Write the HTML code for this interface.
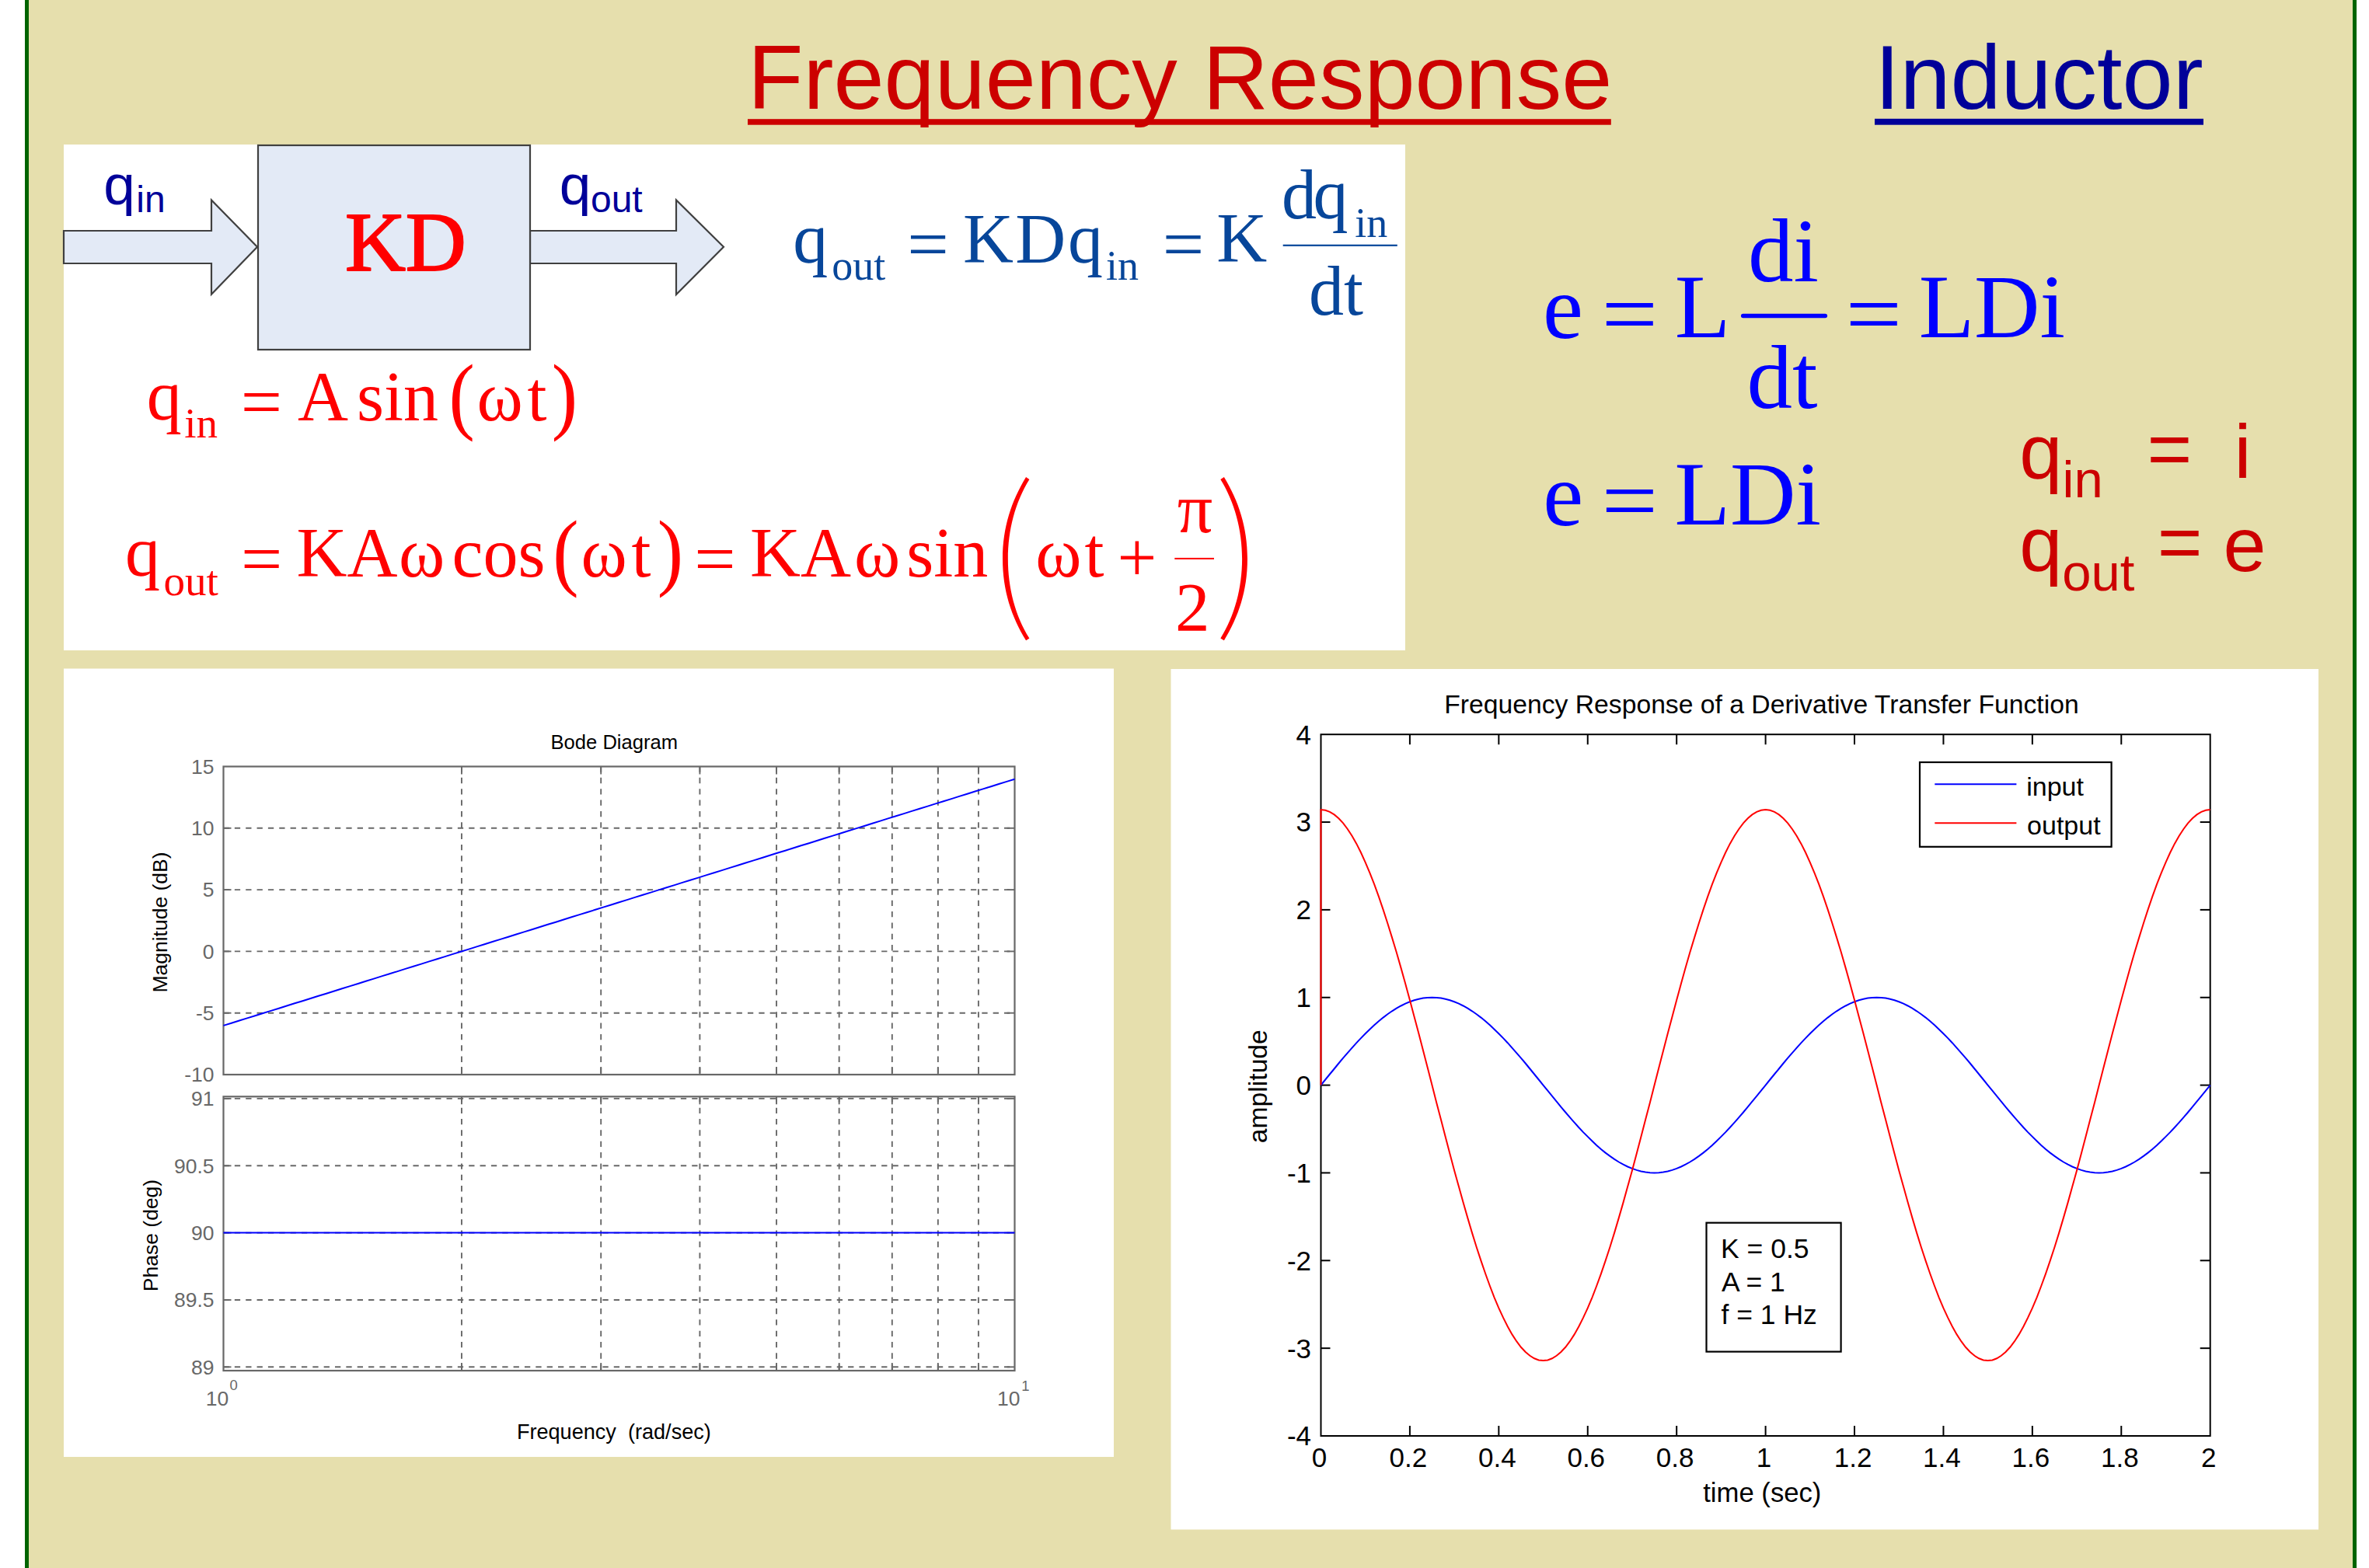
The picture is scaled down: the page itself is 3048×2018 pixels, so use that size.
<!DOCTYPE html>
<html><head><meta charset="utf-8"><title>Frequency Response - Inductor</title>
<style>
html,body{margin:0;padding:0;background:#fff;}
body{width:3048px;height:2018px;overflow:hidden;}
svg{display:block;}
text{white-space:pre;}
</style></head>
<body>
<svg width="3048" height="2018" viewBox="0 0 3048 2018">
<rect x="0.00" y="0.00" width="3048.00" height="2018.00" fill="#FFFFFF"/>
<rect x="32.00" y="0.00" width="3000.00" height="2018.00" fill="#E6DFAD"/>
<rect x="32.00" y="0.00" width="5.00" height="2018.00" fill="#006400"/>
<rect x="3027.00" y="0.00" width="5.00" height="2018.00" fill="#006400"/>
<text x="962.10" y="140.00" font-family="'Liberation Sans',Arial,sans-serif" font-size="117" fill="#CC0000">Frequency Response</text>
<rect x="962.00" y="153.20" width="1110.80" height="7.50" fill="#CC0000"/>
<text x="2411.90" y="140.30" font-family="'Liberation Sans',Arial,sans-serif" font-size="117" fill="#000099">Inductor</text>
<rect x="2412.00" y="152.80" width="423.00" height="7.90" fill="#000099"/>
<rect x="82.00" y="186.00" width="1726.00" height="651.00" fill="#FFFFFF"/>
<polygon points="82,297 272,297 272,257.5 331,317.8 272,378.8 272,339 82,339" fill="#E3EAF6" stroke="#404040" stroke-width="2.2" stroke-linejoin="miter"/>
<polygon points="682,297 870,297 870,257.5 931,317.8 870,379 870,339 682,339" fill="#E3EAF6" stroke="#404040" stroke-width="2.2" stroke-linejoin="miter"/>
<rect x="332.00" y="187.00" width="350.00" height="263.00" fill="#E3EAF6" stroke="#404040" stroke-width="2.2"/>
<text x="443.89" y="348.40" font-family="'Liberation Serif','Times New Roman',serif" font-size="108" fill="#FF0000" stroke="#FF0000" stroke-width="2" stroke-linejoin="round">KD</text>
<text x="133.33" y="263.40" font-family="'Liberation Sans',Arial,sans-serif" font-size="73" fill="#000099">q</text>
<text x="175.29" y="273.00" font-family="'Liberation Sans',Arial,sans-serif" font-size="48" fill="#000099">in</text>
<text x="719.73" y="263.30" font-family="'Liberation Sans',Arial,sans-serif" font-size="73" fill="#000099">q</text>
<text x="759.98" y="273.40" font-family="'Liberation Sans',Arial,sans-serif" font-size="48" fill="#000099">out</text>
<text x="1020.25" y="337.70" font-family="'Liberation Serif','Times New Roman',serif" font-size="90" fill="#07469A">q</text>
<text x="1070.34" y="360.20" font-family="'Liberation Serif','Times New Roman',serif" font-size="54" fill="#07469A">out</text>
<text transform="translate(1167.37,345.38) scale(1.055,1.0)" x="0" y="0" font-family="'Liberation Serif','Times New Roman',serif" font-size="90" fill="#07469A">=</text>
<text x="1238.91" y="337.70" font-family="'Liberation Serif','Times New Roman',serif" font-size="90" fill="#07469A">K</text>
<text x="1306.31" y="337.70" font-family="'Liberation Serif','Times New Roman',serif" font-size="90" fill="#07469A">D</text>
<text x="1373.95" y="337.70" font-family="'Liberation Serif','Times New Roman',serif" font-size="90" fill="#07469A">q</text>
<text x="1422.97" y="360.20" font-family="'Liberation Serif','Times New Roman',serif" font-size="54" fill="#07469A">in</text>
<text transform="translate(1495.67,345.38) scale(1.055,1.0)" x="0" y="0" font-family="'Liberation Serif','Times New Roman',serif" font-size="90" fill="#07469A">=</text>
<text x="1565.21" y="337.30" font-family="'Liberation Serif','Times New Roman',serif" font-size="90" fill="#07469A">K</text>
<rect x="1650.70" y="314.70" width="147.10" height="2.20" fill="#07469A"/>
<text x="1648.95" y="281.20" font-family="'Liberation Serif','Times New Roman',serif" font-size="90" fill="#07469A">d</text>
<text x="1689.45" y="281.20" font-family="'Liberation Serif','Times New Roman',serif" font-size="90" fill="#07469A">q</text>
<text x="1743.37" y="305.00" font-family="'Liberation Serif','Times New Roman',serif" font-size="54" fill="#07469A">in</text>
<text x="1684.05" y="405.10" font-family="'Liberation Serif','Times New Roman',serif" font-size="90" fill="#07469A">dt</text>
<text x="188.75" y="540.20" font-family="'Liberation Serif','Times New Roman',serif" font-size="90" fill="#FF0000">q</text>
<text x="237.35" y="563.40" font-family="'Liberation Serif','Times New Roman',serif" font-size="55" fill="#FF0000">in</text>
<text transform="translate(309.79,548.38) scale(1.05,1.0)" x="0" y="0" font-family="'Liberation Serif','Times New Roman',serif" font-size="90" fill="#FF0000">=</text>
<text x="383.12" y="541.00" font-family="'Liberation Serif','Times New Roman',serif" font-size="90" fill="#FF0000">A</text>
<text x="458.91" y="541.00" font-family="'Liberation Serif','Times New Roman',serif" font-size="90" fill="#FF0000">sin</text>
<text transform="translate(577.61,545.00) scale(1.0,1.11)" x="0" y="0" font-family="'Liberation Serif','Times New Roman',serif" font-size="100" fill="#FF0000">(</text>
<text x="613.48" y="541.00" font-family="'Liberation Serif','Times New Roman',serif" font-size="90" fill="#FF0000">ω</text>
<text x="678.52" y="541.00" font-family="'Liberation Serif','Times New Roman',serif" font-size="90" fill="#FF0000">t</text>
<text transform="translate(709.78,545.00) scale(1.0,1.11)" x="0" y="0" font-family="'Liberation Serif','Times New Roman',serif" font-size="100" fill="#FF0000">)</text>
<text x="160.95" y="741.20" font-family="'Liberation Serif','Times New Roman',serif" font-size="90" fill="#FF0000">q</text>
<text x="210.41" y="765.50" font-family="'Liberation Serif','Times New Roman',serif" font-size="55" fill="#FF0000">out</text>
<text transform="translate(310.09,749.73) scale(1.05,1.0)" x="0" y="0" font-family="'Liberation Serif','Times New Roman',serif" font-size="90" fill="#FF0000">=</text>
<text x="381.41" y="741.80" font-family="'Liberation Serif','Times New Roman',serif" font-size="90" fill="#FF0000">KA</text>
<text x="512.88" y="741.80" font-family="'Liberation Serif','Times New Roman',serif" font-size="90" fill="#FF0000">ω</text>
<text x="581.57" y="741.80" font-family="'Liberation Serif','Times New Roman',serif" font-size="90" fill="#FF0000">cos</text>
<text transform="translate(711.31,745.80) scale(1.0,1.1)" x="0" y="0" font-family="'Liberation Serif','Times New Roman',serif" font-size="100" fill="#FF0000">(</text>
<text x="747.48" y="741.80" font-family="'Liberation Serif','Times New Roman',serif" font-size="90" fill="#FF0000">ω</text>
<text x="812.52" y="741.80" font-family="'Liberation Serif','Times New Roman',serif" font-size="90" fill="#FF0000">t</text>
<text transform="translate(845.78,745.80) scale(1.0,1.1)" x="0" y="0" font-family="'Liberation Serif','Times New Roman',serif" font-size="100" fill="#FF0000">)</text>
<text transform="translate(893.29,749.73) scale(1.05,1.0)" x="0" y="0" font-family="'Liberation Serif','Times New Roman',serif" font-size="90" fill="#FF0000">=</text>
<text x="964.91" y="741.80" font-family="'Liberation Serif','Times New Roman',serif" font-size="90" fill="#FF0000">KA</text>
<text x="1099.08" y="741.80" font-family="'Liberation Serif','Times New Roman',serif" font-size="90" fill="#FF0000">ω</text>
<text x="1166.31" y="741.80" font-family="'Liberation Serif','Times New Roman',serif" font-size="90" fill="#FF0000">sin</text>
<text transform="translate(1269.39,784.47) scale(0.98,1)" x="0" y="0" font-family="'Noto Sans CJK JP','Liberation Serif',serif" font-weight="100" font-size="211.4" fill="#FF0000">(</text>
<text x="1332.18" y="741.80" font-family="'Liberation Serif','Times New Roman',serif" font-size="90" fill="#FF0000">ω</text>
<text x="1395.52" y="741.80" font-family="'Liberation Serif','Times New Roman',serif" font-size="90" fill="#FF0000">t</text>
<text x="1437.52" y="747.88" font-family="'Liberation Serif','Times New Roman',serif" font-size="90" fill="#FF0000">+</text>
<text x="1514.77" y="685.00" font-family="'Liberation Serif','Times New Roman',serif" font-size="90" fill="#FF0000">π</text>
<rect x="1511.30" y="717.90" width="50.70" height="2.00" fill="#FF0000"/>
<text x="1512.09" y="811.00" font-family="'Liberation Serif','Times New Roman',serif" font-size="89" fill="#FF0000">2</text>
<text transform="translate(1563.56,784.47) scale(0.98,1)" x="0" y="0" font-family="'Noto Sans CJK JP','Liberation Serif',serif" font-weight="100" font-size="211.4" fill="#FF0000">)</text>
<text x="1984.93" y="434.60" font-family="'Liberation Serif','Times New Roman',serif" font-size="117" fill="#0000FF">e</text>
<text transform="translate(2060.59,442.74) scale(1.1,1.0)" x="0" y="0" font-family="'Liberation Serif','Times New Roman',serif" font-size="117" fill="#0000FF">=</text>
<text x="2154.63" y="433.90" font-family="'Liberation Serif','Times New Roman',serif" font-size="117" fill="#0000FF">L</text>
<line x1="2242.7" y1="406.5" x2="2348.3" y2="406.5" stroke="#0000FF" stroke-width="5.5" stroke-linecap="round"/>
<text x="2249.07" y="361.80" font-family="'Liberation Serif','Times New Roman',serif" font-size="117" fill="#0000FF">di</text>
<text x="2247.57" y="524.90" font-family="'Liberation Serif','Times New Roman',serif" font-size="117" fill="#0000FF">dt</text>
<text transform="translate(2374.59,442.74) scale(1.1,1.0)" x="0" y="0" font-family="'Liberation Serif','Times New Roman',serif" font-size="117" fill="#0000FF">=</text>
<text x="2468.63" y="433.90" font-family="'Liberation Serif','Times New Roman',serif" font-size="117" fill="#0000FF">LDi</text>
<text x="1985.13" y="675.50" font-family="'Liberation Serif','Times New Roman',serif" font-size="117" fill="#0000FF">e</text>
<text transform="translate(2060.39,683.04) scale(1.1,1.0)" x="0" y="0" font-family="'Liberation Serif','Times New Roman',serif" font-size="117" fill="#0000FF">=</text>
<text x="2154.43" y="675.20" font-family="'Liberation Serif','Times New Roman',serif" font-size="117" fill="#0000FF">LDi</text>
<text x="2598.34" y="615.80" font-family="'Liberation Sans',Arial,sans-serif" font-size="99" fill="#CC0000">q</text>
<text x="2653.52" y="639.90" font-family="'Liberation Sans',Arial,sans-serif" font-size="67" fill="#CC0000">in</text>
<text x="2762.57" y="612.33" font-family="'Liberation Sans',Arial,sans-serif" font-size="99" fill="#CC0000">=</text>
<text x="2874.38" y="615.00" font-family="'Liberation Sans',Arial,sans-serif" font-size="99" fill="#CC0000">i</text>
<text x="2598.34" y="735.30" font-family="'Liberation Sans',Arial,sans-serif" font-size="99" fill="#CC0000">q</text>
<text x="2653.19" y="760.20" font-family="'Liberation Sans',Arial,sans-serif" font-size="67" fill="#CC0000">out</text>
<text x="2775.67" y="732.08" font-family="'Liberation Sans',Arial,sans-serif" font-size="99" fill="#CC0000">=</text>
<text x="2860.49" y="735.00" font-family="'Liberation Sans',Arial,sans-serif" font-size="99" fill="#CC0000">e</text>
<rect x="82.00" y="860.50" width="1351.00" height="1014.50" fill="#FFFFFF"/>
<line x1="593.95" y1="986.50" x2="593.95" y2="1383.00" stroke="#686868" stroke-width="1.9" stroke-dasharray="7.3 7.05"/>
<line x1="593.95" y1="1411.30" x2="593.95" y2="1764.00" stroke="#686868" stroke-width="1.9" stroke-dasharray="7.3 7.05"/>
<line x1="773.21" y1="986.50" x2="773.21" y2="1383.00" stroke="#686868" stroke-width="1.9" stroke-dasharray="7.3 7.05"/>
<line x1="773.21" y1="1411.30" x2="773.21" y2="1764.00" stroke="#686868" stroke-width="1.9" stroke-dasharray="7.3 7.05"/>
<line x1="900.40" y1="986.50" x2="900.40" y2="1383.00" stroke="#686868" stroke-width="1.9" stroke-dasharray="7.3 7.05"/>
<line x1="900.40" y1="1411.30" x2="900.40" y2="1764.00" stroke="#686868" stroke-width="1.9" stroke-dasharray="7.3 7.05"/>
<line x1="999.05" y1="986.50" x2="999.05" y2="1383.00" stroke="#686868" stroke-width="1.9" stroke-dasharray="7.3 7.05"/>
<line x1="999.05" y1="1411.30" x2="999.05" y2="1764.00" stroke="#686868" stroke-width="1.9" stroke-dasharray="7.3 7.05"/>
<line x1="1079.66" y1="986.50" x2="1079.66" y2="1383.00" stroke="#686868" stroke-width="1.9" stroke-dasharray="7.3 7.05"/>
<line x1="1079.66" y1="1411.30" x2="1079.66" y2="1764.00" stroke="#686868" stroke-width="1.9" stroke-dasharray="7.3 7.05"/>
<line x1="1147.81" y1="986.50" x2="1147.81" y2="1383.00" stroke="#686868" stroke-width="1.9" stroke-dasharray="7.3 7.05"/>
<line x1="1147.81" y1="1411.30" x2="1147.81" y2="1764.00" stroke="#686868" stroke-width="1.9" stroke-dasharray="7.3 7.05"/>
<line x1="1206.85" y1="986.50" x2="1206.85" y2="1383.00" stroke="#686868" stroke-width="1.9" stroke-dasharray="7.3 7.05"/>
<line x1="1206.85" y1="1411.30" x2="1206.85" y2="1764.00" stroke="#686868" stroke-width="1.9" stroke-dasharray="7.3 7.05"/>
<line x1="1258.92" y1="986.50" x2="1258.92" y2="1383.00" stroke="#686868" stroke-width="1.9" stroke-dasharray="7.3 7.05"/>
<line x1="1258.92" y1="1411.30" x2="1258.92" y2="1764.00" stroke="#686868" stroke-width="1.9" stroke-dasharray="7.3 7.05"/>
<line x1="287.50" y1="1065.80" x2="1305.50" y2="1065.80" stroke="#686868" stroke-width="1.9" stroke-dasharray="7.3 7.05"/>
<line x1="287.50" y1="1145.10" x2="1305.50" y2="1145.10" stroke="#686868" stroke-width="1.9" stroke-dasharray="7.3 7.05"/>
<line x1="287.50" y1="1224.40" x2="1305.50" y2="1224.40" stroke="#686868" stroke-width="1.9" stroke-dasharray="7.3 7.05"/>
<line x1="287.50" y1="1303.70" x2="1305.50" y2="1303.70" stroke="#686868" stroke-width="1.9" stroke-dasharray="7.3 7.05"/>
<line x1="287.50" y1="1413.90" x2="1305.50" y2="1413.90" stroke="#686868" stroke-width="1.9" stroke-dasharray="7.3 7.05"/>
<line x1="287.50" y1="1500.30" x2="1305.50" y2="1500.30" stroke="#686868" stroke-width="1.9" stroke-dasharray="7.3 7.05"/>
<line x1="287.50" y1="1586.60" x2="1305.50" y2="1586.60" stroke="#686868" stroke-width="1.9" stroke-dasharray="7.3 7.05"/>
<line x1="287.50" y1="1673.00" x2="1305.50" y2="1673.00" stroke="#686868" stroke-width="1.9" stroke-dasharray="7.3 7.05"/>
<line x1="287.50" y1="1759.30" x2="1305.50" y2="1759.30" stroke="#686868" stroke-width="1.9" stroke-dasharray="7.3 7.05"/>
<line x1="593.95" y1="986.50" x2="593.95" y2="996.50" stroke="#686868" stroke-width="1.9"/>
<line x1="593.95" y1="1383.00" x2="593.95" y2="1373.00" stroke="#686868" stroke-width="1.9"/>
<line x1="593.95" y1="1411.30" x2="593.95" y2="1421.30" stroke="#686868" stroke-width="1.9"/>
<line x1="593.95" y1="1764.00" x2="593.95" y2="1754.00" stroke="#686868" stroke-width="1.9"/>
<line x1="773.21" y1="986.50" x2="773.21" y2="996.50" stroke="#686868" stroke-width="1.9"/>
<line x1="773.21" y1="1383.00" x2="773.21" y2="1373.00" stroke="#686868" stroke-width="1.9"/>
<line x1="773.21" y1="1411.30" x2="773.21" y2="1421.30" stroke="#686868" stroke-width="1.9"/>
<line x1="773.21" y1="1764.00" x2="773.21" y2="1754.00" stroke="#686868" stroke-width="1.9"/>
<line x1="900.40" y1="986.50" x2="900.40" y2="996.50" stroke="#686868" stroke-width="1.9"/>
<line x1="900.40" y1="1383.00" x2="900.40" y2="1373.00" stroke="#686868" stroke-width="1.9"/>
<line x1="900.40" y1="1411.30" x2="900.40" y2="1421.30" stroke="#686868" stroke-width="1.9"/>
<line x1="900.40" y1="1764.00" x2="900.40" y2="1754.00" stroke="#686868" stroke-width="1.9"/>
<line x1="999.05" y1="986.50" x2="999.05" y2="996.50" stroke="#686868" stroke-width="1.9"/>
<line x1="999.05" y1="1383.00" x2="999.05" y2="1373.00" stroke="#686868" stroke-width="1.9"/>
<line x1="999.05" y1="1411.30" x2="999.05" y2="1421.30" stroke="#686868" stroke-width="1.9"/>
<line x1="999.05" y1="1764.00" x2="999.05" y2="1754.00" stroke="#686868" stroke-width="1.9"/>
<line x1="1079.66" y1="986.50" x2="1079.66" y2="996.50" stroke="#686868" stroke-width="1.9"/>
<line x1="1079.66" y1="1383.00" x2="1079.66" y2="1373.00" stroke="#686868" stroke-width="1.9"/>
<line x1="1079.66" y1="1411.30" x2="1079.66" y2="1421.30" stroke="#686868" stroke-width="1.9"/>
<line x1="1079.66" y1="1764.00" x2="1079.66" y2="1754.00" stroke="#686868" stroke-width="1.9"/>
<line x1="1147.81" y1="986.50" x2="1147.81" y2="996.50" stroke="#686868" stroke-width="1.9"/>
<line x1="1147.81" y1="1383.00" x2="1147.81" y2="1373.00" stroke="#686868" stroke-width="1.9"/>
<line x1="1147.81" y1="1411.30" x2="1147.81" y2="1421.30" stroke="#686868" stroke-width="1.9"/>
<line x1="1147.81" y1="1764.00" x2="1147.81" y2="1754.00" stroke="#686868" stroke-width="1.9"/>
<line x1="1206.85" y1="986.50" x2="1206.85" y2="996.50" stroke="#686868" stroke-width="1.9"/>
<line x1="1206.85" y1="1383.00" x2="1206.85" y2="1373.00" stroke="#686868" stroke-width="1.9"/>
<line x1="1206.85" y1="1411.30" x2="1206.85" y2="1421.30" stroke="#686868" stroke-width="1.9"/>
<line x1="1206.85" y1="1764.00" x2="1206.85" y2="1754.00" stroke="#686868" stroke-width="1.9"/>
<line x1="1258.92" y1="986.50" x2="1258.92" y2="996.50" stroke="#686868" stroke-width="1.9"/>
<line x1="1258.92" y1="1383.00" x2="1258.92" y2="1373.00" stroke="#686868" stroke-width="1.9"/>
<line x1="1258.92" y1="1411.30" x2="1258.92" y2="1421.30" stroke="#686868" stroke-width="1.9"/>
<line x1="1258.92" y1="1764.00" x2="1258.92" y2="1754.00" stroke="#686868" stroke-width="1.9"/>
<line x1="287.50" y1="1065.80" x2="297.50" y2="1065.80" stroke="#686868" stroke-width="1.9"/>
<line x1="1305.50" y1="1065.80" x2="1295.50" y2="1065.80" stroke="#686868" stroke-width="1.9"/>
<line x1="287.50" y1="1145.10" x2="297.50" y2="1145.10" stroke="#686868" stroke-width="1.9"/>
<line x1="1305.50" y1="1145.10" x2="1295.50" y2="1145.10" stroke="#686868" stroke-width="1.9"/>
<line x1="287.50" y1="1224.40" x2="297.50" y2="1224.40" stroke="#686868" stroke-width="1.9"/>
<line x1="1305.50" y1="1224.40" x2="1295.50" y2="1224.40" stroke="#686868" stroke-width="1.9"/>
<line x1="287.50" y1="1303.70" x2="297.50" y2="1303.70" stroke="#686868" stroke-width="1.9"/>
<line x1="1305.50" y1="1303.70" x2="1295.50" y2="1303.70" stroke="#686868" stroke-width="1.9"/>
<line x1="287.50" y1="1413.90" x2="297.50" y2="1413.90" stroke="#686868" stroke-width="1.9"/>
<line x1="1305.50" y1="1413.90" x2="1295.50" y2="1413.90" stroke="#686868" stroke-width="1.9"/>
<line x1="287.50" y1="1500.30" x2="297.50" y2="1500.30" stroke="#686868" stroke-width="1.9"/>
<line x1="1305.50" y1="1500.30" x2="1295.50" y2="1500.30" stroke="#686868" stroke-width="1.9"/>
<line x1="287.50" y1="1586.60" x2="297.50" y2="1586.60" stroke="#686868" stroke-width="1.9"/>
<line x1="1305.50" y1="1586.60" x2="1295.50" y2="1586.60" stroke="#686868" stroke-width="1.9"/>
<line x1="287.50" y1="1673.00" x2="297.50" y2="1673.00" stroke="#686868" stroke-width="1.9"/>
<line x1="1305.50" y1="1673.00" x2="1295.50" y2="1673.00" stroke="#686868" stroke-width="1.9"/>
<line x1="287.50" y1="1759.30" x2="297.50" y2="1759.30" stroke="#686868" stroke-width="1.9"/>
<line x1="1305.50" y1="1759.30" x2="1295.50" y2="1759.30" stroke="#686868" stroke-width="1.9"/>
<rect x="287.5" y="986.5" width="1018.0" height="396.5" fill="none" stroke="#686868" stroke-width="2.2"/>
<rect x="287.5" y="1411.3" width="1018.0" height="352.70000000000005" fill="none" stroke="#686868" stroke-width="2.2"/>
<polyline points="287.5,1319.9 297.7,1316.7 307.9,1313.5 318.0,1310.4 328.2,1307.2 338.4,1304.0 348.6,1300.9 358.8,1297.7 368.9,1294.5 379.1,1291.3 389.3,1288.2 399.5,1285.0 409.7,1281.8 419.8,1278.7 430.0,1275.5 440.2,1272.3 450.4,1269.1 460.6,1266.0 470.7,1262.8 480.9,1259.6 491.1,1256.4 501.3,1253.3 511.5,1250.1 521.6,1246.9 531.8,1243.8 542.0,1240.6 552.2,1237.4 562.4,1234.2 572.5,1231.1 582.7,1227.9 592.9,1224.7 603.1,1221.6 613.3,1218.4 623.4,1215.2 633.6,1212.0 643.8,1208.9 654.0,1205.7 664.2,1202.5 674.3,1199.4 684.5,1196.2 694.7,1193.0 704.9,1189.8 715.1,1186.7 725.2,1183.5 735.4,1180.3 745.6,1177.1 755.8,1174.0 766.0,1170.8 776.1,1167.6 786.3,1164.5 796.5,1161.3 806.7,1158.1 816.9,1154.9 827.0,1151.8 837.2,1148.6 847.4,1145.4 857.6,1142.3 867.8,1139.1 877.9,1135.9 888.1,1132.7 898.3,1129.6 908.5,1126.4 918.7,1123.2 928.8,1120.1 939.0,1116.9 949.2,1113.7 959.4,1110.5 969.6,1107.4 979.7,1104.2 989.9,1101.0 1000.1,1097.8 1010.3,1094.7 1020.5,1091.5 1030.6,1088.3 1040.8,1085.2 1051.0,1082.0 1061.2,1078.8 1071.4,1075.6 1081.5,1072.5 1091.7,1069.3 1101.9,1066.1 1112.1,1063.0 1122.3,1059.8 1132.4,1056.6 1142.6,1053.4 1152.8,1050.3 1163.0,1047.1 1173.2,1043.9 1183.3,1040.8 1193.5,1037.6 1203.7,1034.4 1213.9,1031.2 1224.1,1028.1 1234.2,1024.9 1244.4,1021.7 1254.6,1018.5 1264.8,1015.4 1275.0,1012.2 1285.1,1009.0 1295.3,1005.9 1305.5,1002.7" fill="none" stroke="#0000FF" stroke-width="2"/>
<line x1="287.50" y1="1586.60" x2="1305.50" y2="1586.60" stroke="#0000FF" stroke-width="2"/>
<text x="275.50" y="995.80" font-family="'Liberation Sans',Arial,sans-serif" font-size="26.5" fill="#686868" text-anchor="end">15</text>
<text x="275.50" y="1075.10" font-family="'Liberation Sans',Arial,sans-serif" font-size="26.5" fill="#686868" text-anchor="end">10</text>
<text x="275.50" y="1154.40" font-family="'Liberation Sans',Arial,sans-serif" font-size="26.5" fill="#686868" text-anchor="end">5</text>
<text x="275.50" y="1233.70" font-family="'Liberation Sans',Arial,sans-serif" font-size="26.5" fill="#686868" text-anchor="end">0</text>
<text x="275.50" y="1313.00" font-family="'Liberation Sans',Arial,sans-serif" font-size="26.5" fill="#686868" text-anchor="end">-5</text>
<text x="275.50" y="1392.30" font-family="'Liberation Sans',Arial,sans-serif" font-size="26.5" fill="#686868" text-anchor="end">-10</text>
<text x="275.50" y="1423.20" font-family="'Liberation Sans',Arial,sans-serif" font-size="26.5" fill="#686868" text-anchor="end">91</text>
<text x="275.50" y="1509.60" font-family="'Liberation Sans',Arial,sans-serif" font-size="26.5" fill="#686868" text-anchor="end">90.5</text>
<text x="275.50" y="1595.90" font-family="'Liberation Sans',Arial,sans-serif" font-size="26.5" fill="#686868" text-anchor="end">90</text>
<text x="275.50" y="1682.30" font-family="'Liberation Sans',Arial,sans-serif" font-size="26.5" fill="#686868" text-anchor="end">89.5</text>
<text x="275.50" y="1768.60" font-family="'Liberation Sans',Arial,sans-serif" font-size="26.5" fill="#686868" text-anchor="end">89</text>
<text x="264.68" y="1809.00" font-family="'Liberation Sans',Arial,sans-serif" font-size="26.5" fill="#686868">10</text>
<text x="295.58" y="1789.30" font-family="'Liberation Sans',Arial,sans-serif" font-size="18.5" fill="#686868">0</text>
<text x="1282.98" y="1808.50" font-family="'Liberation Sans',Arial,sans-serif" font-size="26.5" fill="#686868">10</text>
<text x="1314.29" y="1789.60" font-family="'Liberation Sans',Arial,sans-serif" font-size="18.5" fill="#686868">1</text>
<text x="708.50" y="963.90" font-family="'Liberation Sans',Arial,sans-serif" font-size="25.6" fill="#000000">Bode Diagram</text>
<text x="664.88" y="1852.10" font-family="'Liberation Sans',Arial,sans-serif" font-size="27.1" fill="#000000" xml:space="preserve">Frequency  (rad/sec)</text>
<text transform="translate(214.6,1187) rotate(-90)" x="0" y="0" text-anchor="middle" font-family="'Liberation Sans',Arial,sans-serif" font-size="26.5" fill="#000000">Magnitude (dB)</text>
<text transform="translate(203.3,1590) rotate(-90)" x="0" y="0" text-anchor="middle" font-family="'Liberation Sans',Arial,sans-serif" font-size="26.5" fill="#000000">Phase (deg)</text>
<rect x="1506.50" y="861.00" width="1476.50" height="1107.50" fill="#FFFFFF"/>
<line x1="1813.92" y1="945.20" x2="1813.92" y2="958.20" stroke="#000000" stroke-width="2"/>
<line x1="1813.92" y1="1848.00" x2="1813.92" y2="1835.00" stroke="#000000" stroke-width="2"/>
<line x1="1928.34" y1="945.20" x2="1928.34" y2="958.20" stroke="#000000" stroke-width="2"/>
<line x1="1928.34" y1="1848.00" x2="1928.34" y2="1835.00" stroke="#000000" stroke-width="2"/>
<line x1="2042.76" y1="945.20" x2="2042.76" y2="958.20" stroke="#000000" stroke-width="2"/>
<line x1="2042.76" y1="1848.00" x2="2042.76" y2="1835.00" stroke="#000000" stroke-width="2"/>
<line x1="2157.18" y1="945.20" x2="2157.18" y2="958.20" stroke="#000000" stroke-width="2"/>
<line x1="2157.18" y1="1848.00" x2="2157.18" y2="1835.00" stroke="#000000" stroke-width="2"/>
<line x1="2271.60" y1="945.20" x2="2271.60" y2="958.20" stroke="#000000" stroke-width="2"/>
<line x1="2271.60" y1="1848.00" x2="2271.60" y2="1835.00" stroke="#000000" stroke-width="2"/>
<line x1="2386.02" y1="945.20" x2="2386.02" y2="958.20" stroke="#000000" stroke-width="2"/>
<line x1="2386.02" y1="1848.00" x2="2386.02" y2="1835.00" stroke="#000000" stroke-width="2"/>
<line x1="2500.44" y1="945.20" x2="2500.44" y2="958.20" stroke="#000000" stroke-width="2"/>
<line x1="2500.44" y1="1848.00" x2="2500.44" y2="1835.00" stroke="#000000" stroke-width="2"/>
<line x1="2614.86" y1="945.20" x2="2614.86" y2="958.20" stroke="#000000" stroke-width="2"/>
<line x1="2614.86" y1="1848.00" x2="2614.86" y2="1835.00" stroke="#000000" stroke-width="2"/>
<line x1="2729.28" y1="945.20" x2="2729.28" y2="958.20" stroke="#000000" stroke-width="2"/>
<line x1="2729.28" y1="1848.00" x2="2729.28" y2="1835.00" stroke="#000000" stroke-width="2"/>
<line x1="1699.50" y1="1735.15" x2="1711.50" y2="1735.15" stroke="#000000" stroke-width="2"/>
<line x1="2843.70" y1="1735.15" x2="2830.70" y2="1735.15" stroke="#000000" stroke-width="2"/>
<line x1="1699.50" y1="1622.30" x2="1711.50" y2="1622.30" stroke="#000000" stroke-width="2"/>
<line x1="2843.70" y1="1622.30" x2="2830.70" y2="1622.30" stroke="#000000" stroke-width="2"/>
<line x1="1699.50" y1="1509.45" x2="1711.50" y2="1509.45" stroke="#000000" stroke-width="2"/>
<line x1="2843.70" y1="1509.45" x2="2830.70" y2="1509.45" stroke="#000000" stroke-width="2"/>
<line x1="1699.50" y1="1396.60" x2="1711.50" y2="1396.60" stroke="#000000" stroke-width="2"/>
<line x1="2843.70" y1="1396.60" x2="2830.70" y2="1396.60" stroke="#000000" stroke-width="2"/>
<line x1="1699.50" y1="1283.75" x2="1711.50" y2="1283.75" stroke="#000000" stroke-width="2"/>
<line x1="2843.70" y1="1283.75" x2="2830.70" y2="1283.75" stroke="#000000" stroke-width="2"/>
<line x1="1699.50" y1="1170.90" x2="1711.50" y2="1170.90" stroke="#000000" stroke-width="2"/>
<line x1="2843.70" y1="1170.90" x2="2830.70" y2="1170.90" stroke="#000000" stroke-width="2"/>
<line x1="1699.50" y1="1058.05" x2="1711.50" y2="1058.05" stroke="#000000" stroke-width="2"/>
<line x1="2843.70" y1="1058.05" x2="2830.70" y2="1058.05" stroke="#000000" stroke-width="2"/>
<rect x="1699.5" y="945.2" width="1144.1999999999998" height="902.8" fill="none" stroke="#000000" stroke-width="2"/>
<polyline points="1699.5,1396.6 1705.2,1389.5 1710.9,1382.5 1716.7,1375.5 1722.4,1368.5 1728.1,1361.7 1733.8,1355.1 1739.5,1348.6 1745.3,1342.2 1751.0,1336.1 1756.7,1330.3 1762.4,1324.7 1768.2,1319.3 1773.9,1314.3 1779.6,1309.6 1785.3,1305.3 1791.0,1301.3 1796.8,1297.7 1802.5,1294.5 1808.2,1291.7 1813.9,1289.3 1819.6,1287.3 1825.4,1285.7 1831.1,1284.6 1836.8,1284.0 1842.5,1283.8 1848.2,1284.0 1854.0,1284.6 1859.7,1285.7 1865.4,1287.3 1871.1,1289.3 1876.9,1291.7 1882.6,1294.5 1888.3,1297.7 1894.0,1301.3 1899.7,1305.3 1905.5,1309.6 1911.2,1314.3 1916.9,1319.3 1922.6,1324.7 1928.3,1330.3 1934.1,1336.1 1939.8,1342.2 1945.5,1348.6 1951.2,1355.1 1956.9,1361.7 1962.7,1368.5 1968.4,1375.5 1974.1,1382.5 1979.8,1389.5 1985.5,1396.6 1991.3,1403.7 1997.0,1410.7 2002.7,1417.7 2008.4,1424.7 2014.2,1431.5 2019.9,1438.1 2025.6,1444.6 2031.3,1451.0 2037.0,1457.1 2042.8,1462.9 2048.5,1468.5 2054.2,1473.9 2059.9,1478.9 2065.6,1483.6 2071.4,1487.9 2077.1,1491.9 2082.8,1495.5 2088.5,1498.7 2094.2,1501.5 2100.0,1503.9 2105.7,1505.9 2111.4,1507.5 2117.1,1508.6 2122.9,1509.2 2128.6,1509.5 2134.3,1509.2 2140.0,1508.6 2145.7,1507.5 2151.5,1505.9 2157.2,1503.9 2162.9,1501.5 2168.6,1498.7 2174.3,1495.5 2180.1,1491.9 2185.8,1487.9 2191.5,1483.6 2197.2,1478.9 2202.9,1473.9 2208.7,1468.5 2214.4,1462.9 2220.1,1457.1 2225.8,1451.0 2231.6,1444.6 2237.3,1438.1 2243.0,1431.5 2248.7,1424.7 2254.4,1417.7 2260.2,1410.7 2265.9,1403.7 2271.6,1396.6 2277.3,1389.5 2283.0,1382.5 2288.8,1375.5 2294.5,1368.5 2300.2,1361.7 2305.9,1355.1 2311.6,1348.6 2317.4,1342.2 2323.1,1336.1 2328.8,1330.3 2334.5,1324.7 2340.3,1319.3 2346.0,1314.3 2351.7,1309.6 2357.4,1305.3 2363.1,1301.3 2368.9,1297.7 2374.6,1294.5 2380.3,1291.7 2386.0,1289.3 2391.7,1287.3 2397.5,1285.7 2403.2,1284.6 2408.9,1284.0 2414.6,1283.8 2420.3,1284.0 2426.1,1284.6 2431.8,1285.7 2437.5,1287.3 2443.2,1289.3 2449.0,1291.7 2454.7,1294.5 2460.4,1297.7 2466.1,1301.3 2471.8,1305.3 2477.6,1309.6 2483.3,1314.3 2489.0,1319.3 2494.7,1324.7 2500.4,1330.3 2506.2,1336.1 2511.9,1342.2 2517.6,1348.6 2523.3,1355.1 2529.0,1361.7 2534.8,1368.5 2540.5,1375.5 2546.2,1382.5 2551.9,1389.5 2557.6,1396.6 2563.4,1403.7 2569.1,1410.7 2574.8,1417.7 2580.5,1424.7 2586.3,1431.5 2592.0,1438.1 2597.7,1444.6 2603.4,1451.0 2609.1,1457.1 2614.9,1462.9 2620.6,1468.5 2626.3,1473.9 2632.0,1478.9 2637.7,1483.6 2643.5,1487.9 2649.2,1491.9 2654.9,1495.5 2660.6,1498.7 2666.3,1501.5 2672.1,1503.9 2677.8,1505.9 2683.5,1507.5 2689.2,1508.6 2695.0,1509.2 2700.7,1509.5 2706.4,1509.2 2712.1,1508.6 2717.8,1507.5 2723.6,1505.9 2729.3,1503.9 2735.0,1501.5 2740.7,1498.7 2746.4,1495.5 2752.2,1491.9 2757.9,1487.9 2763.6,1483.6 2769.3,1478.9 2775.0,1473.9 2780.8,1468.5 2786.5,1462.9 2792.2,1457.1 2797.9,1451.0 2803.7,1444.6 2809.4,1438.1 2815.1,1431.5 2820.8,1424.7 2826.5,1417.7 2832.3,1410.7 2838.0,1403.7 2843.7,1396.6" fill="none" stroke="#0000FF" stroke-width="2"/>
<polyline points="1699.5,1396.6 1699.5,1042.1 1705.2,1042.8 1710.9,1044.9 1716.7,1048.4 1722.4,1053.2 1728.1,1059.4 1733.8,1067.0 1739.5,1075.8 1745.3,1085.9 1751.0,1097.3 1756.7,1109.8 1762.4,1123.4 1768.2,1138.2 1773.9,1153.9 1779.6,1170.6 1785.3,1188.2 1791.0,1206.6 1796.8,1225.8 1802.5,1245.6 1808.2,1266.1 1813.9,1287.0 1819.6,1308.4 1825.4,1330.2 1831.1,1352.2 1836.8,1374.3 1842.5,1396.6 1848.2,1418.9 1854.0,1441.0 1859.7,1463.0 1865.4,1484.8 1871.1,1506.2 1876.9,1527.1 1882.6,1547.6 1888.3,1567.4 1894.0,1586.6 1899.7,1605.0 1905.5,1622.6 1911.2,1639.3 1916.9,1655.0 1922.6,1669.8 1928.3,1683.4 1934.1,1695.9 1939.8,1707.3 1945.5,1717.4 1951.2,1726.2 1956.9,1733.8 1962.7,1740.0 1968.4,1744.8 1974.1,1748.3 1979.8,1750.4 1985.5,1751.1 1991.3,1750.4 1997.0,1748.3 2002.7,1744.8 2008.4,1740.0 2014.2,1733.8 2019.9,1726.2 2025.6,1717.4 2031.3,1707.3 2037.0,1695.9 2042.8,1683.4 2048.5,1669.8 2054.2,1655.0 2059.9,1639.3 2065.6,1622.6 2071.4,1605.0 2077.1,1586.6 2082.8,1567.4 2088.5,1547.6 2094.2,1527.1 2100.0,1506.2 2105.7,1484.8 2111.4,1463.0 2117.1,1441.0 2122.9,1418.9 2128.6,1396.6 2134.3,1374.3 2140.0,1352.2 2145.7,1330.2 2151.5,1308.4 2157.2,1287.0 2162.9,1266.1 2168.6,1245.6 2174.3,1225.8 2180.1,1206.6 2185.8,1188.2 2191.5,1170.6 2197.2,1153.9 2202.9,1138.2 2208.7,1123.4 2214.4,1109.8 2220.1,1097.3 2225.8,1085.9 2231.6,1075.8 2237.3,1067.0 2243.0,1059.4 2248.7,1053.2 2254.4,1048.4 2260.2,1044.9 2265.9,1042.8 2271.6,1042.1 2277.3,1042.8 2283.0,1044.9 2288.8,1048.4 2294.5,1053.2 2300.2,1059.4 2305.9,1067.0 2311.6,1075.8 2317.4,1085.9 2323.1,1097.3 2328.8,1109.8 2334.5,1123.4 2340.3,1138.2 2346.0,1153.9 2351.7,1170.6 2357.4,1188.2 2363.1,1206.6 2368.9,1225.8 2374.6,1245.6 2380.3,1266.1 2386.0,1287.0 2391.7,1308.4 2397.5,1330.2 2403.2,1352.2 2408.9,1374.3 2414.6,1396.6 2420.3,1418.9 2426.1,1441.0 2431.8,1463.0 2437.5,1484.8 2443.2,1506.2 2449.0,1527.1 2454.7,1547.6 2460.4,1567.4 2466.1,1586.6 2471.8,1605.0 2477.6,1622.6 2483.3,1639.3 2489.0,1655.0 2494.7,1669.8 2500.4,1683.4 2506.2,1695.9 2511.9,1707.3 2517.6,1717.4 2523.3,1726.2 2529.0,1733.8 2534.8,1740.0 2540.5,1744.8 2546.2,1748.3 2551.9,1750.4 2557.6,1751.1 2563.4,1750.4 2569.1,1748.3 2574.8,1744.8 2580.5,1740.0 2586.3,1733.8 2592.0,1726.2 2597.7,1717.4 2603.4,1707.3 2609.1,1695.9 2614.9,1683.4 2620.6,1669.8 2626.3,1655.0 2632.0,1639.3 2637.7,1622.6 2643.5,1605.0 2649.2,1586.6 2654.9,1567.4 2660.6,1547.6 2666.3,1527.1 2672.1,1506.2 2677.8,1484.8 2683.5,1463.0 2689.2,1441.0 2695.0,1418.9 2700.7,1396.6 2706.4,1374.3 2712.1,1352.2 2717.8,1330.2 2723.6,1308.4 2729.3,1287.0 2735.0,1266.1 2740.7,1245.6 2746.4,1225.8 2752.2,1206.6 2757.9,1188.2 2763.6,1170.6 2769.3,1153.9 2775.0,1138.2 2780.8,1123.4 2786.5,1109.8 2792.2,1097.3 2797.9,1085.9 2803.7,1075.8 2809.4,1067.0 2815.1,1059.4 2820.8,1053.2 2826.5,1048.4 2832.3,1044.9 2838.0,1042.8 2843.7,1042.1" fill="none" stroke="#FF0000" stroke-width="2"/>
<text x="1687.00" y="1860.40" font-family="'Liberation Sans',Arial,sans-serif" font-size="35" fill="#000000" text-anchor="end">-4</text>
<text x="1687.00" y="1747.55" font-family="'Liberation Sans',Arial,sans-serif" font-size="35" fill="#000000" text-anchor="end">-3</text>
<text x="1687.00" y="1634.70" font-family="'Liberation Sans',Arial,sans-serif" font-size="35" fill="#000000" text-anchor="end">-2</text>
<text x="1687.00" y="1521.85" font-family="'Liberation Sans',Arial,sans-serif" font-size="35" fill="#000000" text-anchor="end">-1</text>
<text x="1687.00" y="1409.00" font-family="'Liberation Sans',Arial,sans-serif" font-size="35" fill="#000000" text-anchor="end">0</text>
<text x="1687.00" y="1296.15" font-family="'Liberation Sans',Arial,sans-serif" font-size="35" fill="#000000" text-anchor="end">1</text>
<text x="1687.00" y="1183.30" font-family="'Liberation Sans',Arial,sans-serif" font-size="35" fill="#000000" text-anchor="end">2</text>
<text x="1687.00" y="1070.45" font-family="'Liberation Sans',Arial,sans-serif" font-size="35" fill="#000000" text-anchor="end">3</text>
<text x="1687.00" y="957.60" font-family="'Liberation Sans',Arial,sans-serif" font-size="35" fill="#000000" text-anchor="end">4</text>
<text x="1697.50" y="1888.30" font-family="'Liberation Sans',Arial,sans-serif" font-size="35" fill="#000000" text-anchor="middle">0</text>
<text x="1811.92" y="1888.30" font-family="'Liberation Sans',Arial,sans-serif" font-size="35" fill="#000000" text-anchor="middle">0.2</text>
<text x="1926.34" y="1888.30" font-family="'Liberation Sans',Arial,sans-serif" font-size="35" fill="#000000" text-anchor="middle">0.4</text>
<text x="2040.76" y="1888.30" font-family="'Liberation Sans',Arial,sans-serif" font-size="35" fill="#000000" text-anchor="middle">0.6</text>
<text x="2155.18" y="1888.30" font-family="'Liberation Sans',Arial,sans-serif" font-size="35" fill="#000000" text-anchor="middle">0.8</text>
<text x="2269.60" y="1888.30" font-family="'Liberation Sans',Arial,sans-serif" font-size="35" fill="#000000" text-anchor="middle">1</text>
<text x="2384.02" y="1888.30" font-family="'Liberation Sans',Arial,sans-serif" font-size="35" fill="#000000" text-anchor="middle">1.2</text>
<text x="2498.44" y="1888.30" font-family="'Liberation Sans',Arial,sans-serif" font-size="35" fill="#000000" text-anchor="middle">1.4</text>
<text x="2612.86" y="1888.30" font-family="'Liberation Sans',Arial,sans-serif" font-size="35" fill="#000000" text-anchor="middle">1.6</text>
<text x="2727.28" y="1888.30" font-family="'Liberation Sans',Arial,sans-serif" font-size="35" fill="#000000" text-anchor="middle">1.8</text>
<text x="2841.70" y="1888.30" font-family="'Liberation Sans',Arial,sans-serif" font-size="35" fill="#000000" text-anchor="middle">2</text>
<text x="1858.24" y="918.40" font-family="'Liberation Sans',Arial,sans-serif" font-size="33.7" fill="#000000">Frequency Response of a Derivative Transfer Function</text>
<text x="2191.17" y="1933.30" font-family="'Liberation Sans',Arial,sans-serif" font-size="34.7" fill="#000000">time (sec)</text>
<text transform="translate(1630,1398.2) rotate(-90)" x="0" y="0" text-anchor="middle" font-family="'Liberation Sans',Arial,sans-serif" font-size="33.7" fill="#000000">amplitude</text>
<rect x="2470" y="981" width="246.6" height="108.8" fill="#FFFFFF" stroke="#000000" stroke-width="2.2"/>
<line x1="2489.30" y1="1009.30" x2="2594.40" y2="1009.30" stroke="#0000FF" stroke-width="2"/>
<line x1="2489.30" y1="1059.30" x2="2594.40" y2="1059.30" stroke="#FF0000" stroke-width="2"/>
<text x="2607.23" y="1023.50" font-family="'Liberation Sans',Arial,sans-serif" font-size="34" fill="#000000">input</text>
<text x="2608.07" y="1073.50" font-family="'Liberation Sans',Arial,sans-serif" font-size="34" fill="#000000">output</text>
<rect x="2195.5" y="1573.7" width="173.1" height="165.9" fill="#FFFFFF" stroke="#000000" stroke-width="2.2"/>
<text x="2214.09" y="1619.40" font-family="'Liberation Sans',Arial,sans-serif" font-size="35.5" fill="#000000">K = 0.5</text>
<text x="2214.93" y="1661.80" font-family="'Liberation Sans',Arial,sans-serif" font-size="35.5" fill="#000000">A = 1</text>
<text x="2214.50" y="1704.20" font-family="'Liberation Sans',Arial,sans-serif" font-size="35.5" fill="#000000">f = 1 Hz</text>
</svg>
</body></html>
